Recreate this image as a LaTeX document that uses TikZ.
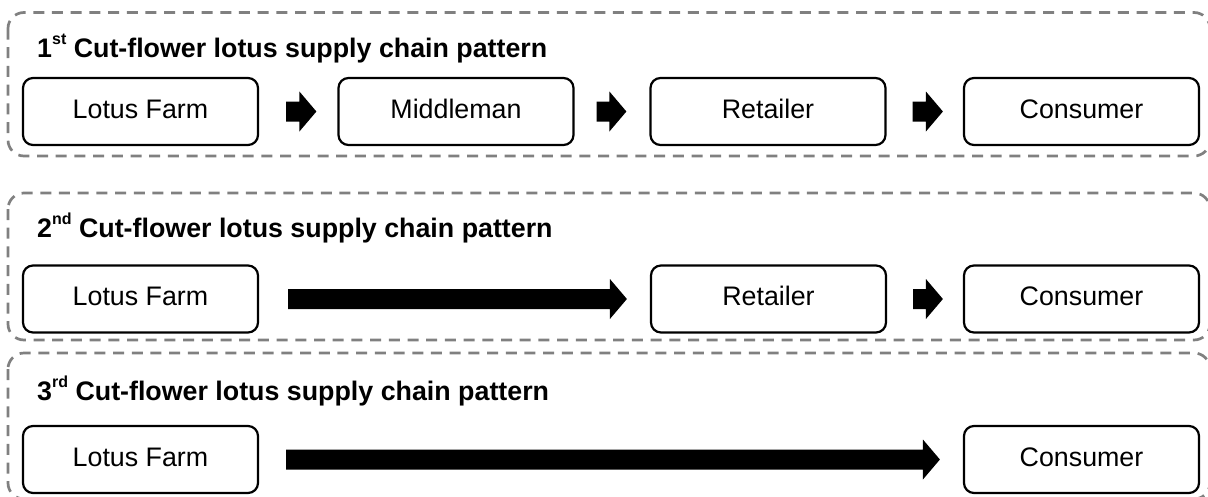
\documentclass[tikz,border=0pt]{standalone}
\usepackage{fontspec}
\setmainfont{Liberation Sans}
\usetikzlibrary{calc}
\definecolor{dashgray}{HTML}{808080}
\newcommand\blockarrow[2]{%
  \fill let \p1=(#1), \p2=(#2) in
    (\x1,\y1+10pt) -- (\x2-17pt,\y1+10pt) -- (\x2-17pt,\y1+20pt) -- (\x2,\y1)
    -- (\x2-17pt,\y1-20pt) -- (\x2-17pt,\y1-10pt) -- (\x1,\y1-10pt) -- cycle;}
\newcommand\supx[1]{\raisebox{0.45em}{\fontsize{16}{18}\selectfont #1}}
\begin{document}
\begin{tikzpicture}[x=1pt,y=-1pt,
  stage/.style={draw=black, line width=2.2pt, rounded corners=10pt,
    minimum width=235pt, minimum height=67pt, inner sep=0pt,
    font=\fontsize{26.8}{30}\selectfont, text height=19.2pt, text depth=6pt},
  title/.style={anchor=base west, inner sep=0pt,
    font=\fontsize{26.8}{30}\selectfont\bfseries},
  group/.style={draw=dashgray, line width=2.7pt, dash pattern=on 11pt off 7.7pt,
    rounded corners=16pt}]
\useasboundingbox (0,0) rectangle (1208,496);
\clip (0,0) rectangle (1208,496);
% groups
\draw[group] (8,12.5) rectangle (1210,156);
\draw[group] (8,193) rectangle (1210,340);
\draw[group] (8,353) rectangle (1210,499);
% titles
\node[title] (t1) at (37,57) {1\supx{st} Cut-flower lotus supply chain pattern};
\node[title] (t2) at (37,237) {2\supx{nd} Cut-flower lotus supply chain pattern};
\node[title] (t3) at (37,400) {3\supx{rd} Cut-flower lotus supply chain pattern};
% row 1
\node[stage] (lf1) at (140.5,111.5) {Lotus Farm};
\node[stage] (mm1) at (456,111.5) {Middleman};
\node[stage] (rt1) at (768,111.5) {Retailer};
\node[stage] (cs1) at (1081.5,111.5) {Consumer};
% row 2
\node[stage] (lf2) at (140.5,299) {Lotus Farm};
\node[stage] (rt2) at (768.5,299) {Retailer};
\node[stage] (cs2) at (1081.5,299) {Consumer};
% row 3
\node[stage] (lf3) at (140.5,459.5) {Lotus Farm};
\node[stage] (cs3) at (1081.5,459.5) {Consumer};
% arrows
\blockarrow{[xshift=27pt]lf1.east}{[xshift=-21pt]mm1.west}
\blockarrow{[xshift=22pt]mm1.east}{[xshift=-23pt]rt1.west}
\blockarrow{[xshift=26pt]rt1.east}{[xshift=-20pt]cs1.west}
\blockarrow{[xshift=29pt]lf2.east}{[xshift=-23pt]rt2.west}
\blockarrow{[xshift=26pt]rt2.east}{[xshift=-20pt]cs2.west}
\blockarrow{[xshift=27pt]lf3.east}{[xshift=-23pt]cs3.west}
\end{tikzpicture}
\end{document}
